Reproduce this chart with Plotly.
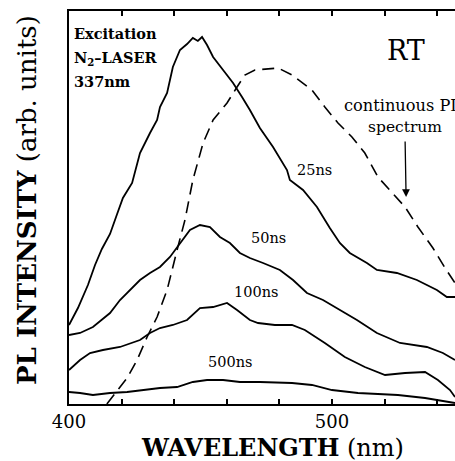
import plotly.graph_objects as go

# ---- data (wavelength in nm, intensity in arb. units) ----
wl_25 = [400.0, 403.4, 407.2, 409.9, 412.5, 415.6, 418.3, 420.5, 424.0, 427.0, 430.8, 433.5, 434.6,
         437.3, 439.5, 442.2, 444.9, 447.1, 449.0, 450.6, 452.5, 454.8, 458.6, 462.4, 465.8, 468.8,
         472.6, 477.6, 482.9, 484.0, 489.0, 494.3, 499.2, 503.0, 506.8, 513.3, 517.1, 524.7, 532.3,
         539.9, 543.7, 546.8]
int_25 = [79, 96, 119, 139, 155, 170, 190, 206, 221, 251, 271, 284, 297,
          311, 337, 354, 360, 366, 363, 367, 359, 347, 334, 321, 307, 294,
          276, 257, 234, 224, 214, 197, 176, 161, 151, 141, 134, 131, 124,
          114, 107, 107]

wl_50 = [400.0, 404.2, 409.1, 415.6, 419.4, 423.2, 427.0, 430.8, 434.6, 438.4, 442.2, 446.0, 449.8,
         453.6, 457.4, 461.2, 465.0, 468.8, 473.8, 480.2, 485.2, 490.5, 496.6, 503.0, 509.5, 517.1,
         525.9, 536.1, 542.2, 546.8]
int_50 = [69, 71, 77, 91, 104, 114, 124, 131, 137, 147, 161, 174, 179,
          177, 167, 161, 151, 146, 141, 134, 124, 111, 104, 94, 84, 71,
          61, 57, 51, 44]

wl_100 = [400.0, 404.2, 408.0, 412.9, 419.4, 427.0, 430.8, 434.6, 439.5, 444.9, 449.8, 454.8, 460.1,
          463.9, 468.8, 471.9, 478.3, 484.8, 489.7, 497.3, 504.9, 512.5, 520.2, 527.8, 535.4, 540.3,
          544.9, 546.8]
int_100 = [34, 44, 51, 54, 57, 64, 71, 76, 79, 84, 96, 97, 101,
           94, 84, 81, 79, 79, 74, 61, 47, 37, 29, 31, 32, 24,
           14, 7]

wl_500 = [400.0, 404.2, 409.1, 415.6, 422.1, 428.1, 434.6, 441.1, 447.1, 452.5, 458.6, 465.0, 472.6,
          484.8, 492.4, 500.0, 509.9, 525.1, 535.4, 546.8]
int_500 = [12, 11, 9, 11, 12, 14, 16, 17, 22, 24, 24, 22, 22,
           21, 19, 14, 11, 9, 6, 1]

wl_cw = [414.4, 418.3, 422.1, 425.9, 429.7, 433.5, 437.3, 441.4, 444.1, 447.1, 451.0, 454.8, 460.1,
         463.9, 466.9, 470.7, 475.7, 479.5, 484.8, 492.4, 497.3, 502.3, 507.6, 512.5, 517.5, 522.8,
         527.8, 532.7, 538.4, 543.0, 546.8]
int_cw = [0, 13, 26, 44, 67, 87, 114, 157, 184, 224, 261, 284, 301,
          317, 329, 334, 335, 336, 329, 314, 297, 281, 267, 251, 227, 211,
          197, 177, 156, 136, 121]

tick_vals = [400, 420, 440, 460, 480, 500, 520, 540]
tick_text = ["400", "", "", "", "", "500", "", ""]

FONT = "DejaVu Serif"

fig = go.Figure()
for xs, ys in [(wl_25, int_25), (wl_50, int_50), (wl_100, int_100), (wl_500, int_500)]:
    fig.add_trace(go.Scatter(x=xs, y=ys, mode="lines",
                             line=dict(color="black", width=1.8), showlegend=False))
fig.add_trace(go.Scatter(x=wl_cw, y=int_cw, mode="lines",
                         line=dict(color="black", width=1.6, dash="12px,7px"), showlegend=False))

fig.update_layout(
    width=455, height=461,
    margin=dict(l=69, r=0, t=11, b=57),
    paper_bgcolor="white", plot_bgcolor="white",
    font=dict(family=FONT, color="black"),
    xaxis=dict(range=[400, 546.8], tickvals=tick_vals, ticktext=tick_text,
               ticks="inside", ticklen=5, tickwidth=1.5, tickcolor="black",
               showline=True, linecolor="black", linewidth=2, mirror="ticks",
               showgrid=False, zeroline=False, tickfont=dict(size=18, family=FONT)),
    yaxis=dict(range=[0, 393], showticklabels=False, ticks="",
               showline=True, linecolor="black", linewidth=2, mirror=False,
               showgrid=False, zeroline=False),
)

def lab(x, y, text, size, xanchor="center"):
    fig.add_annotation(x=x, y=y, xref="x", yref="y", text=text, showarrow=False,
                       xanchor=xanchor, yanchor="middle",
                       font=dict(size=size, family=FONT, color="black"))

lab(401.3, 371, "<b>Excitation</b>", 14.5, xanchor="left")
lab(401.3, 346, "<b>N<sub>2</sub>–LASER</b>", 14.5, xanchor="left")
lab(401.3, 323, "<b>337nm</b>", 14.5, xanchor="left")
lab(528.0, 354, "RT", 27)
lab(504.0, 299, "continuous PL", 16.2, xanchor="left")
lab(527.8, 277, "spectrum", 15.5)
lab(493.5, 234, "25ns", 14.5)
lab(475.7, 166, "50ns", 14.5)
lab(471.1, 112, "100ns", 14.5)
lab(461.2, 42, "500ns", 14.5)

fig.add_annotation(x=528.2, y=207, xref="x", yref="y", text="", showarrow=True,
                   ax=-1, ay=-57, axref="pixel", ayref="pixel",
                   arrowhead=2, arrowsize=1.2, arrowwidth=1.3, arrowcolor="black")

# axis titles placed in paper coordinates (plot area: x 69..455 px, y 11..404 px)
pw, ph = 455 - 69, 461 - 11 - 57
fig.add_annotation(x=(272 - 69) / pw, y=(404 - 448) / ph, xref="paper", yref="paper",
                   xanchor="center", yanchor="middle",
                   text="<b>WAVELENGTH</b> (nm)", showarrow=False,
                   font=dict(size=24, family=FONT, color="black"))
fig.add_annotation(x=(27 - 69) / pw, y=(404 - 200) / ph, xref="paper", yref="paper",
                   xanchor="center", yanchor="middle",
                   text="<b>PL INTENSITY</b> (arb. units)", textangle=-90, showarrow=False,
                   font=dict(size=26, family=FONT, color="black"))

fig.write_html("out.html")
